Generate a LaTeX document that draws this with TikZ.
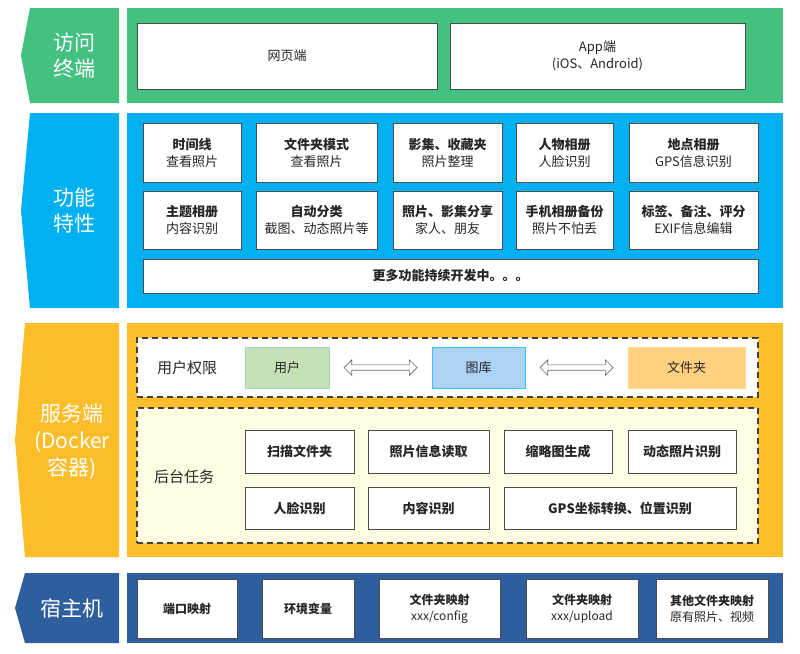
\documentclass[tikz,border=0pt]{standalone}
\usepackage{fontspec}
\setmainfont{Noto Sans CJK SC}
\usetikzlibrary{calc, shapes.arrows}

\definecolor{verdeAccesso}{RGB}{67,193,128}
\definecolor{bluFunzioni}{RGB}{0,176,240}
\definecolor{gialloServer}{RGB}{252,189,42}
\definecolor{bluHost}{RGB}{47,94,158}
\definecolor{gialloChiaro}{RGB}{255,253,228}
\definecolor{verdeUtente}{RGB}{197,224,180}
\definecolor{bluGalleria}{RGB}{172,210,245}
\definecolor{aranciaCartella}{RGB}{255,208,128}

\begin{document}
\begin{tikzpicture}[x=1pt, y=-1pt,
	pannello/.style={inner sep=0pt, outer sep=0pt, minimum width=656pt},
	etichetta/.style={text=white, align=center, font=\fontsize{21}{26}\selectfont},
	casella/.style={draw=black!70, fill=white, line width=1pt, inner sep=0pt, align=center, text=black!85, font=\fontsize{13}{17}\selectfont},
	compito/.style={casella, font=\bfseries\fontsize{13}{17}\selectfont},
	tratteggio/.style={draw=black!75, line width=1.3pt, dash pattern=on 6pt off 4pt, inner sep=0pt, minimum width=621pt},
	ruolo/.style={line width=1pt, inner sep=0pt, minimum height=41pt, text=black!85, font=\fontsize{13}{17}\selectfont},
	freccia/.style={double arrow, draw=black!60, fill=white, line width=0.7pt, inner sep=2.3pt, double arrow head extend=5pt, minimum height=73pt}]

	\useasboundingbox (0,0) rectangle (800,653);

	%Disegno il primo livello
	\fill[verdeAccesso] (30,8) -- (119,8) -- (119,103) -- (30,103) -- (21,55.5) -- cycle;
	\node (etichettaAccesso) at (74,55.5) [etichetta]{访问\\终端};

	\node (pannelloAccesso) at (455,55.5) [pannello, fill=verdeAccesso, minimum height=95pt]{};

	\node (webClient) at (287,56) [casella, minimum width=300pt, minimum height=66pt]{网页端};

	\node (appClient) at (597.5,56) [casella, minimum width=295pt, minimum height=66pt]{App端\\(iOS、Android)};


	%Disegno il secondo livello
	\fill[bluFunzioni] (30,113) -- (119,113) -- (119,308) -- (30,308) -- (21,210.5) -- cycle;
	\node (etichettaFunzioni) at (74,210.5) [etichetta]{功能\\特性};

	\node (pannelloFunzioni) at (455,210.5) [pannello, fill=bluFunzioni, minimum height=195pt]{};

	\node (primaFunzione) at (192,152.5) [casella, minimum width=98pt, minimum height=59pt]{\textbf{时间线}\\查看照片};

	\node (secondaFunzione) at (316.5,152.5) [casella, minimum width=121pt, minimum height=59pt]{\textbf{文件夹模式}\\查看照片};

	\node (terzaFunzione) at (447.5,152.5) [casella, minimum width=109pt, minimum height=59pt]{\textbf{影集、收藏夹}\\照片整理};

	\node (quartaFunzione) at (564.5,152.5) [casella, minimum width=97pt, minimum height=59pt]{\textbf{人物相册}\\人脸识别};

	\node (quintaFunzione) at (693.5,152.5) [casella, minimum width=129pt, minimum height=59pt]{\textbf{地点相册}\\GPS信息识别};

	\node (sestaFunzione) at (192,220) [casella, minimum width=98pt, minimum height=58pt]{\textbf{主题相册}\\内容识别};

	\node (settimaFunzione) at (316.5,220) [casella, minimum width=121pt, minimum height=58pt]{\textbf{自动分类}\\截图、动态照片等};

	\node (ottavaFunzione) at (447.5,220) [casella, minimum width=109pt, minimum height=58pt]{\textbf{照片、影集分享}\\家人、朋友};

	\node (nonaFunzione) at (564.5,220) [casella, minimum width=97pt, minimum height=58pt]{\textbf{手机相册备份}\\照片不怕丢};

	\node (decimaFunzione) at (693.5,220) [casella, minimum width=129pt, minimum height=58pt]{\textbf{标签、备注、评分}\\EXIF信息编辑};

	\node (altreFunzioni) at (450.5,276) [casella, minimum width=615pt, minimum height=34pt]{\textbf{更多功能持续开发中。。。}};


	%Disegno il terzo livello
	\fill[gialloServer] (25,323) -- (119,323) -- (119,557) -- (25,557) -- (15,440) -- cycle;
	\node (etichettaServer) at (72,442) [etichetta, font=\fontsize{21}{27}\selectfont]{服务端\\(Docker\\容器)};

	\node (pannelloServer) at (455,440) [pannello, fill=gialloServer, minimum height=234pt]{};

	\node (riquadroPermessi) at (447.5,367.5) [tratteggio, fill=white, minimum height=59pt]{};
	\node (titoloPermessi) at (187,367.5) [text=black!85, font=\fontsize{15}{18}\selectfont]{用户权限};

	\node (utente) at (287,367.5) [ruolo, draw=verdeAccesso!55, fill=verdeUtente, minimum width=84pt]{用户};

	\node (galleria) at (478.5,367.5) [ruolo, draw=bluFunzioni!80, fill=bluGalleria, minimum width=93pt]{图库};

	\node (cartella) at (686.5,367.5) [ruolo, draw=gialloServer!55, fill=aranciaCartella, minimum width=117pt]{文件夹};

	%Disegno i collegamenti
	\node (primaFreccia) at ($(utente.east)!0.5!(galleria.west)$) [freccia]{};

	\node (secondaFreccia) at ($(galleria.east)!0.5!(cartella.west)$) [freccia]{};

	\node (riquadroCompiti) at (447.5,475.5) [tratteggio, fill=gialloChiaro, minimum height=135pt]{};
	\node (titoloCompiti) at (184,477) [text=black!85, font=\fontsize{15}{18}\selectfont]{后台任务};

	\node (primoCompito) at (299.5,451.5) [compito, minimum width=109pt, minimum height=43pt]{扫描文件夹};

	\node (secondoCompito) at (428.5,451.5) [compito, minimum width=121pt, minimum height=43pt]{照片信息读取};

	\node (terzoCompito) at (558,451.5) [compito, minimum width=108pt, minimum height=43pt]{缩略图生成};

	\node (quartoCompito) at (682,451.5) [compito, minimum width=108pt, minimum height=43pt]{动态照片识别};

	\node (quintoCompito) at (299.5,508) [compito, minimum width=109pt, minimum height=42pt]{人脸识别};

	\node (sestoCompito) at (428.5,508) [compito, minimum width=121pt, minimum height=42pt]{内容识别};

	\node (settimoCompito) at (620,508) [compito, minimum width=232pt, minimum height=42pt]{GPS坐标转换、位置识别};


	%Disegno il quarto livello
	\fill[bluHost] (25,573) -- (119,573) -- (119,643) -- (25,643) -- (15,608) -- cycle;
	\node (etichettaHost) at (72,608) [etichetta]{宿主机};

	\node (pannelloHost) at (455,608) [pannello, fill=bluHost, minimum height=70pt]{};

	\node (primaMappatura) at (187,608.5) [casella, font=\fontsize{12}{16}\selectfont, minimum width=100pt, minimum height=59pt]{\textbf{端口映射}};

	\node (secondaMappatura) at (308,608.5) [casella, font=\fontsize{12}{16}\selectfont, minimum width=92pt, minimum height=59pt]{\textbf{环境变量}};

	\node (terzaMappatura) at (439.5,608.5) [casella, font=\fontsize{12}{16}\selectfont, minimum width=121pt, minimum height=59pt]{\textbf{文件夹映射}\\xxx/config};

	\node (quartaMappatura) at (582,608.5) [casella, font=\fontsize{12}{16}\selectfont, minimum width=112pt, minimum height=59pt]{\textbf{文件夹映射}\\xxx/upload};

	\node (quintaMappatura) at (712,608.5) [casella, font=\fontsize{12}{16}\selectfont, minimum width=112pt, minimum height=59pt]{\textbf{其他文件夹映射}\\原有照片、视频};

\end{tikzpicture}
\end{document}
